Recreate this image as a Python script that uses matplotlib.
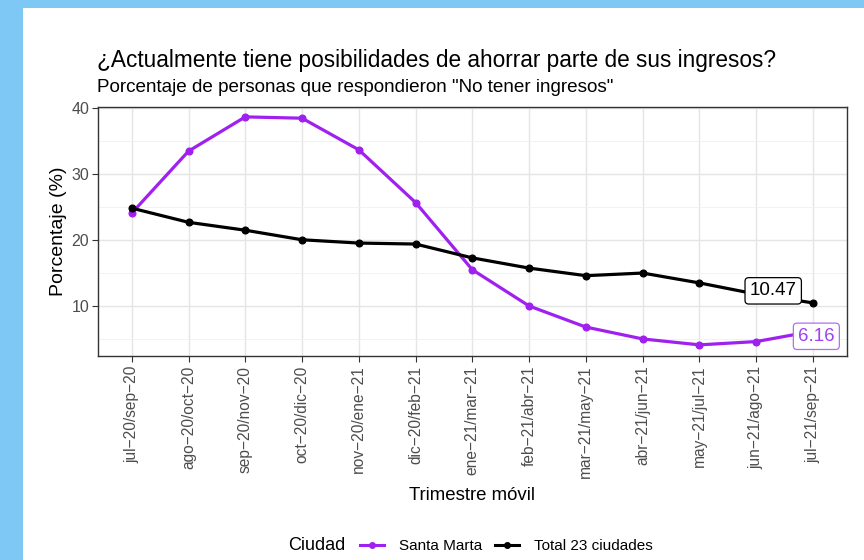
import matplotlib
matplotlib.use("Agg")
import matplotlib.pyplot as plt
from matplotlib.patches import Rectangle
from matplotlib.lines import Line2D

plt.rcParams['font.family'] = ['Liberation Sans', 'DejaVu Sans']

categories = ["jul\u221220/sep\u221220", "ago\u221220/oct\u221220", "sep\u221220/nov\u221220",
              "oct\u221220/dic\u221220", "nov\u221220/ene\u221221", "dic\u221220/feb\u221221",
              "ene\u221221/mar\u221221", "feb\u221221/abr\u221221", "mar\u221221/may\u221221",
              "abr\u221221/jun\u221221", "may\u221221/jul\u221221", "jun\u221221/ago\u221221",
              "jul\u221221/sep\u221221"]
santa_marta = [24.1, 33.5, 38.7, 38.5, 33.7, 25.7, 15.5, 10.0, 6.8, 5.0, 4.1, 4.6, 6.16]
total_23 = [24.85, 22.7, 21.5, 20.05, 19.55, 19.4, 17.3, 15.75, 14.6, 15.0, 13.5, 11.8, 10.47]
yticks = [10, 20, 30, 40]
minor_yticks = [5, 15, 25, 35]

PURPLE = '#A020F0'

fig = plt.figure(figsize=(8.64, 5.6), dpi=100)
fig.patch.set_facecolor('#7DC8F5')
fig.patches.append(Rectangle((23/864, 0), 1, 1 - 8/560, transform=fig.transFigure,
                             facecolor='white', edgecolor='none', zorder=-5))

ax = fig.add_axes([97.7/864, 1 - 356/560, (847 - 97.7)/864, (356 - 107)/560])
ax.set_zorder(2)
x = list(range(len(categories)))

ax.plot(x, santa_marta, color=PURPLE, lw=2.3, marker='o', ms=4.8, zorder=3, label='Santa Marta')
ax.plot(x, total_23, color='black', lw=2.3, marker='o', ms=4.8, zorder=3, label='Total 23 ciudades')

ax.set_xlim(-0.6, len(categories) - 1 + 0.6)
ax.set_ylim(2.41, 40.2)
ax.set_xticks(x)
ax.set_xticklabels(categories, rotation=90, fontsize=11.2, color='#4D4D4D')
ax.set_yticks(yticks)
ax.set_yticks(minor_yticks, minor=True)
ax.tick_params(axis='y', labelsize=11.5, labelcolor='#4D4D4D', color='#333333', length=4, width=0.8, pad=2)
ax.tick_params(axis='x', color='#333333', length=4, width=0.8, pad=3)
ax.tick_params(axis='y', which='minor', length=0)
ax.grid(True, which='major', color='#E5E5E5', lw=1.0)
ax.grid(True, which='minor', axis='y', color='#F0F0F0', lw=0.6)
ax.set_axisbelow(True)
for s in ax.spines.values():
    s.set_color('#333333')
    s.set_linewidth(1.0)

ax.set_xlabel('Trimestre m\u00f3vil', fontsize=13.4, labelpad=6)
ax.set_ylabel('Porcentaje (%)', fontsize=14, labelpad=3)

# value labels
ax.text(11.3, 12.3, f"{total_23[-1]:.2f}", fontsize=13.5, color='black', ha='center', va='center',
        zorder=5, bbox=dict(boxstyle='round,pad=0.25,rounding_size=0.2', fc='white', ec='black', lw=0.9))
ax.text(12.06, 5.4, f"{santa_marta[-1]:.2f}", fontsize=13.5, color='#A040F0', ha='center', va='center',
        zorder=5, bbox=dict(boxstyle='round,pad=0.25,rounding_size=0.2', fc='white', ec='#B070F0', lw=0.9))

fig.text(97/864, 1 - 60/560, '\u00bfActualmente tiene posibilidades de ahorrar parte de sus ingresos?',
         fontsize=16.3, ha='left', va='center', color='black')
fig.text(97/864, 1 - 87/560, 'Porcentaje de personas que respondieron "No tener ingresos"',
         fontsize=13.6, ha='left', va='center', color='black')

# legend
fig.text(288/864, 1 - 546/560, 'Ciudad', fontsize=13, ha='left', va='center')
handles = [Line2D([], [], color=PURPLE, lw=2.2, marker='o', ms=4),
           Line2D([], [], color='black', lw=2.2, marker='o', ms=4)]
fig.legend(handles, ['Santa Marta', 'Total 23 ciudades'], loc='center left',
           bbox_to_anchor=(360/864, 1 - 546/560), ncol=2, frameon=False, fontsize=11,
           handlelength=1.57, handletextpad=1.0, columnspacing=0.8, borderpad=0, borderaxespad=0)

fig.savefig('out.png', dpi=100, facecolor=fig.get_facecolor())
